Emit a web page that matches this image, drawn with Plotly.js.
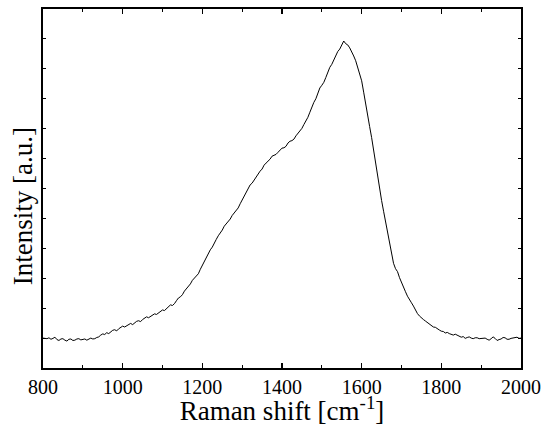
<!DOCTYPE html>
<html>
<head>
<meta charset="utf-8">
<script src="https://cdn.plot.ly/plotly-3.0.1.min.js"></script>
<style>html,body{margin:0;padding:0;background:#fff;}#chart{width:541px;height:426px;}</style>
</head>
<body>
<div id="chart"></div>
<script>
// Raman shift (cm^-1)
const ramanShift = [
  800,805,810,815,820,825,830,835,840,845,850,855,860,865,870,875,880,885,890,895,
  900,905,910,915,920,925,930,935,940,945,950,955,960,965,970,975,980,985,990,995,
  1000,1005,1010,1015,1020,1025,1030,1035,1040,1045,1050,1055,1060,1065,1070,1075,1080,1085,1090,1095,
  1100,1105,1110,1115,1120,1125,1130,1135,1140,1145,1150,1155,1160,1165,1170,1175,1180,1185,1190,1195,
  1200,1205,1210,1215,1220,1225,1230,1235,1240,1245,1250,1255,1260,1265,1270,1275,1280,1285,1290,1295,
  1300,1305,1310,1315,1320,1325,1330,1335,1340,1345,1350,1355,1360,1365,1370,1375,1380,1385,1390,1395,
  1400,1405,1410,1415,1420,1425,1430,1435,1440,1445,1450,1455,1460,1465,1470,1475,1480,1485,1490,1495,
  1500,1505,1510,1515,1520,1525,1530,1535,1540,1545,1550,1555,1560,1565,1570,1575,1580,1585,1590,1595,
  1600,1605,1610,1615,1620,1625,1630,1635,1640,1645,1650,1655,1660,1665,1670,1675,1680,1685,1690,1695,
  1700,1705,1710,1715,1720,1725,1730,1735,1740,1745,1750,1755,1760,1765,1770,1775,1780,1785,1790,1795,
  1800,1805,1810,1815,1820,1825,1830,1835,1840,1845,1850,1855,1860,1865,1870,1875,1880,1885,1890,1895,
  1900,1905,1910,1915,1920,1925,1930,1935,1940,1945,1950,1955,1960,1965,1970,1975,1980,1985,1990,1995,
  2000
];
// Intensity (a.u.)
const intensity = [
  1.00,0.99,0.98,1.01,0.96,0.99,1.03,0.95,0.92,0.97,0.98,0.93,0.90,0.96,0.97,0.92,0.93,0.97,0.98,0.94,
  0.96,0.97,0.93,0.97,1.00,0.97,0.98,1.02,1.04,1.10,1.14,1.12,1.18,1.15,1.21,1.26,1.28,1.24,1.31,1.36,
  1.40,1.37,1.42,1.47,1.49,1.45,1.51,1.56,1.58,1.55,1.62,1.67,1.71,1.68,1.72,1.78,1.81,1.79,1.85,1.91,
  1.94,1.92,1.99,2.06,2.11,2.09,2.15,2.25,2.34,2.38,2.45,2.57,2.64,2.72,2.81,2.93,3.01,3.06,3.15,3.30,
  3.43,3.55,3.68,3.84,3.95,4.04,4.15,4.30,4.42,4.50,4.61,4.74,4.82,4.88,4.98,5.10,5.18,5.24,5.35,5.49,
  5.62,5.72,5.85,6.01,6.12,6.18,6.28,6.42,6.52,6.58,6.65,6.78,6.85,6.90,6.98,7.08,7.12,7.14,7.21,7.30,
  7.35,7.36,7.41,7.52,7.58,7.60,7.65,7.76,7.85,7.90,8.01,8.14,8.25,8.38,8.55,8.74,8.88,9.00,9.18,9.36,
  9.45,9.55,9.71,9.92,10.05,10.15,10.31,10.48,10.58,10.66,10.82,10.93,10.84,10.80,10.70,10.58,10.43,10.27,10.07,9.85,
  9.60,9.22,8.80,8.45,8.07,7.70,7.27,6.80,6.33,5.95,5.60,5.24,4.87,4.50,4.13,3.80,3.50,3.32,3.22,3.02,
  2.88,2.70,2.55,2.40,2.27,2.18,2.07,1.92,1.82,1.74,1.67,1.62,1.57,1.52,1.47,1.44,1.37,1.36,1.30,1.27,
  1.23,1.22,1.17,1.19,1.15,1.12,1.10,1.13,1.09,1.07,1.03,1.05,0.99,1.02,1.04,1.00,0.98,1.01,1.01,0.98,
  0.99,1.01,1.00,0.96,0.93,0.98,1.04,0.99,0.92,0.95,0.97,1.02,1.01,0.96,0.96,0.99,1.00,1.03,1.03,0.99,
  1.00
];
const xTickVals = [800, 1000, 1200, 1400, 1600, 1800, 2000];
const xTickText = ["800", "1000", "1200", "1400", "1600", "1800", "2000"];

const serif = "Liberation Serif";

Plotly.newPlot("chart", [{
  x: ramanShift,
  y: intensity,
  type: "scatter",
  mode: "lines",
  line: {color: "#000", width: 1},
  hoverinfo: "skip"
}], {
  width: 541,
  height: 426,
  margin: {l: 43, r: 20, t: 9, b: 58},
  paper_bgcolor: "#fff",
  plot_bgcolor: "#fff",
  showlegend: false,
  font: {family: serif, color: "#000"},
  xaxis: {
    range: [800, 2000],
    tickmode: "array",
    tickvals: xTickVals,
    ticktext: xTickText,
    ticks: "inside",
    ticklen: 5,
    tickwidth: 1.2,
    tickcolor: "#000",
    minor: {dtick: 100, tick0: 800, ticks: "inside", ticklen: 3, tickwidth: 1, tickcolor: "#000"},
    showline: true,
    linecolor: "#000",
    linewidth: 1.8,
    mirror: "allticks",
    showgrid: false,
    zeroline: false,
    tickfont: {family: serif, size: 20, color: "#000"},
    title: {text: "Raman shift [cm<sup>-1</sup>]", font: {family: serif, size: 27, color: "#000"}, standoff: 0}
  },
  yaxis: {
    range: [0, 12],
    tickmode: "linear",
    tick0: 0,
    dtick: 1,
    ticks: "inside",
    ticklen: 3,
    tickwidth: 1,
    tickcolor: "#000",
    showticklabels: false,
    showline: true,
    linecolor: "#000",
    linewidth: 1.8,
    mirror: "allticks",
    showgrid: false,
    zeroline: false
  },
  annotations: [{
    text: "Intensity [a.u.]",
    xref: "paper", yref: "paper",
    x: -0.04, y: 0.45,
    xanchor: "center", yanchor: "middle",
    textangle: -90,
    showarrow: false,
    font: {family: serif, size: 27, color: "#000"}
  }]
}, {staticPlot: true, displayModeBar: false});
</script>
</body>
</html>
